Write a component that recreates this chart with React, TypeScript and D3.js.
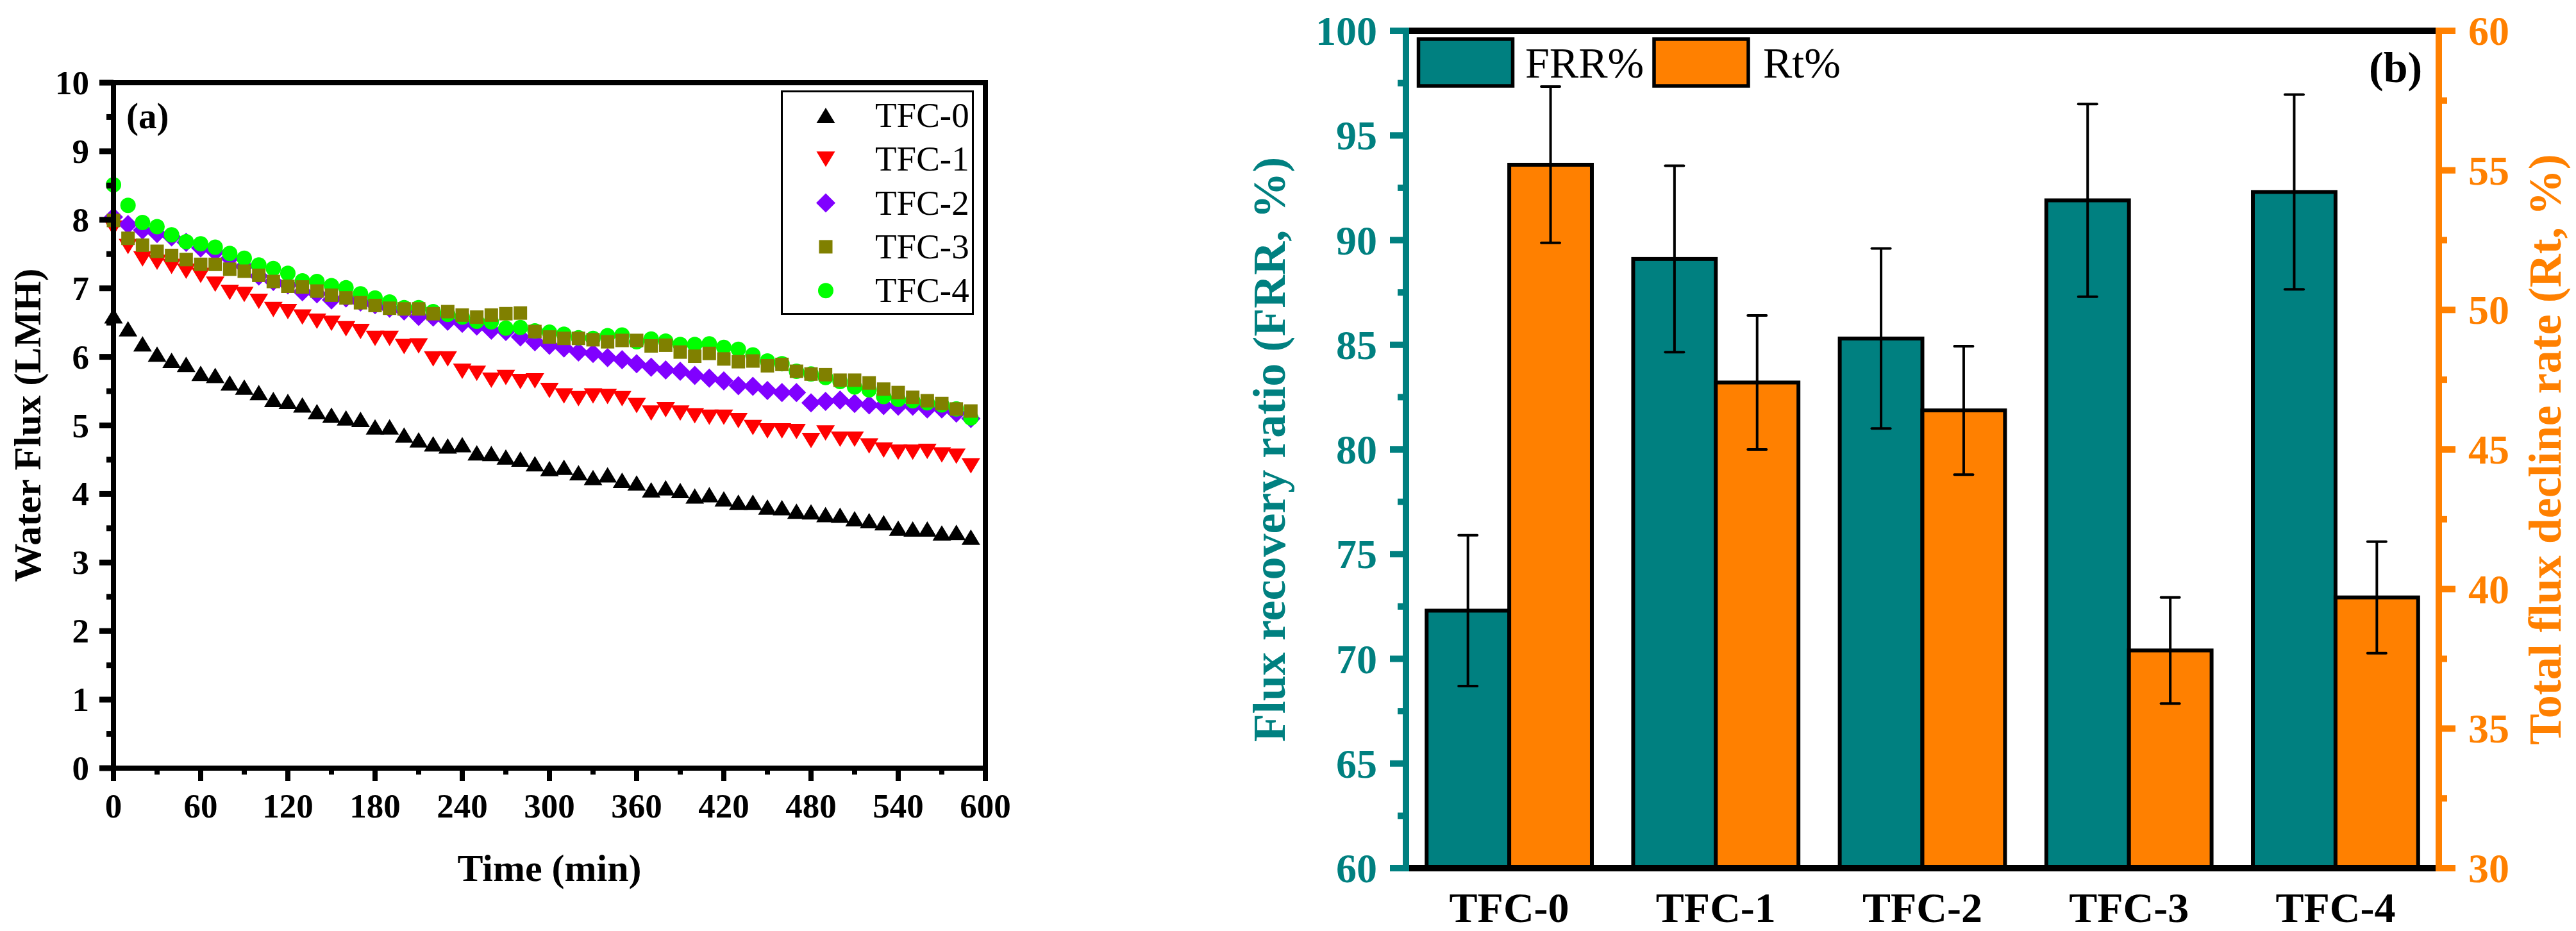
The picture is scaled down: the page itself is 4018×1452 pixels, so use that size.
import React from "react";
import * as d3 from "d3";

// ---- panel (a): water flux vs time ----
const times = [
  0, 10, 20, 30, 40, 50, 60, 70, 80, 90, 100, 110, 120, 130, 140, 150, 160, 170, 180, 190,
  200, 210, 220, 230, 240, 250, 260, 270, 280, 290, 300, 310, 320, 330, 340, 350, 360, 370, 380, 390,
  400, 410, 420, 430, 440, 450, 460, 470, 480, 490, 500, 510, 520, 530, 540, 550, 560, 570, 580, 590,
];
const tfc0 = [
  6.6, 6.41, 6.19, 6.04, 5.95, 5.89, 5.76, 5.73, 5.62, 5.56, 5.48, 5.38, 5.35, 5.3, 5.2, 5.15, 5.11, 5.09, 4.98, 4.98,
  4.86, 4.79, 4.73, 4.7, 4.72, 4.6, 4.59, 4.54, 4.51, 4.44, 4.37, 4.39, 4.31, 4.24, 4.28, 4.2, 4.16, 4.06, 4.09, 4.05,
  3.97, 3.99, 3.93, 3.88, 3.88, 3.81, 3.8, 3.75, 3.74, 3.7, 3.69, 3.64, 3.61, 3.58, 3.5, 3.49, 3.49, 3.43, 3.44, 3.37,
];
const tfc1 = [
  7.88, 7.61, 7.43, 7.38, 7.32, 7.25, 7.19, 7.06, 6.94, 6.91, 6.81, 6.69, 6.66, 6.58, 6.52, 6.49, 6.41, 6.37, 6.27, 6.27,
  6.15, 6.16, 5.97, 5.97, 5.79, 5.76, 5.66, 5.7, 5.64, 5.65, 5.51, 5.43, 5.39, 5.43, 5.42, 5.39, 5.29, 5.18, 5.23, 5.18,
  5.14, 5.12, 5.12, 5.07, 4.97, 4.92, 4.92, 4.91, 4.78, 4.89, 4.8, 4.8, 4.7, 4.64, 4.61, 4.61, 4.62, 4.57, 4.55, 4.41,
];
const tfc2 = [
  8.04, 7.93, 7.85, 7.8, 7.75, 7.67, 7.59, 7.53, 7.44, 7.32, 7.18, 7.1, 7.05, 6.95, 6.92, 6.83, 6.86, 6.8, 6.76, 6.71,
  6.67, 6.59, 6.58, 6.52, 6.49, 6.45, 6.39, 6.37, 6.29, 6.22, 6.17, 6.13, 6.07, 6.05, 5.99, 5.96, 5.9, 5.85, 5.81, 5.79,
  5.73, 5.69, 5.65, 5.58, 5.57, 5.51, 5.48, 5.48, 5.33, 5.35, 5.37, 5.32, 5.3, 5.29, 5.28, 5.28, 5.24, 5.24, 5.18, 5.1,
];
const tfc3 = [
  7.99, 7.73, 7.63, 7.54, 7.48, 7.42, 7.35, 7.35, 7.28, 7.25, 7.19, 7.1, 7.03, 7.02, 6.96, 6.9, 6.86, 6.79, 6.75, 6.71,
  6.7, 6.7, 6.63, 6.66, 6.61, 6.58, 6.61, 6.63, 6.64, 6.37, 6.29, 6.27, 6.27, 6.25, 6.22, 6.24, 6.24, 6.16, 6.17, 6.07,
  6.01, 6.05, 5.97, 5.93, 5.94, 5.87, 5.89, 5.79, 5.75, 5.74, 5.66, 5.66, 5.62, 5.53, 5.48, 5.41, 5.36, 5.32, 5.24, 5.21,
];
const tfc4 = [
  8.51, 8.21, 7.96, 7.9, 7.78, 7.68, 7.65, 7.6, 7.51, 7.44, 7.34, 7.29, 7.22, 7.11, 7.1, 7.04, 7.01, 6.92, 6.86, 6.8,
  6.72, 6.72, 6.66, 6.62, 6.58, 6.52, 6.51, 6.42, 6.43, 6.38, 6.36, 6.33, 6.28, 6.27, 6.31, 6.32, 6.22, 6.26, 6.23, 6.18,
  6.18, 6.19, 6.14, 6.11, 6.03, 5.94, 5.9, 5.79, 5.75, 5.7, 5.64, 5.56, 5.52, 5.42, 5.38, 5.36, 5.33, 5.3, 5.24, 5.11,
];
const seriesNames = ["TFC-0", "TFC-1", "TFC-2", "TFC-3", "TFC-4"];
const xTicks = [0, 60, 120, 180, 240, 300, 360, 420, 480, 540, 600];
const yTicks = [0, 1, 2, 3, 4, 5, 6, 7, 8, 9, 10];

// ---- panel (b): FRR / Rt bars ----
const categories = ["TFC-0", "TFC-1", "TFC-2", "TFC-3", "TFC-4"];
const frr = [72.3, 89.1, 85.3, 91.9, 92.3];
const frrErr = [3.6, 4.45, 4.3, 4.6, 4.65];
const rt = [55.2, 47.4, 46.4, 37.8, 39.7];
const rtErr = [2.8, 2.4, 2.3, 1.9, 2.0];
const frrTicks = [60, 65, 70, 75, 80, 85, 90, 95, 100];
const rtTicks = [30, 35, 40, 45, 50, 55, 60];

const W = 4018;
const H = 1452;
const FONT = "'Liberation Serif', 'Times New Roman', serif";
const TEAL = "#008080";
const ORANGE = "#FF8000";

const seriesStyle = [
  { shape: "up", color: "#000000" },
  { shape: "down", color: "#FF0000" },
  { shape: "diamond", color: "#8000FF" },
  { shape: "square", color: "#808000" },
  { shape: "circle", color: "#00FF00" },
];

function Marker({ shape, color, x, y }: { shape: string; color: string; x: number; y: number }) {
  if (shape === "circle") return <circle cx={x} cy={y} r={12} fill={color} />;
  if (shape === "square") return <rect x={x - 10.5} y={y - 10.5} width={21} height={21} fill={color} />;
  let d = "";
  if (shape === "up") d = "M0,-12L14.5,12L-14.5,12Z";
  else if (shape === "down") d = "M-14.5,-12L14.5,-12L0,12Z";
  else d = "M0,-15L15,0L0,15L-15,0Z";
  return <path d={d} transform={`translate(${x},${y})`} fill={color} />;
}

function FluxPanel() {
  const x = d3.scaleLinear().domain([0, 600]).range([177, 1537]);
  const y = d3.scaleLinear().domain([0, 10]).range([1198, 129]);
  const data = [tfc0, tfc1, tfc2, tfc3, tfc4];
  const drawOrder = [0, 1, 2, 4, 3];
  const xMinor = d3.range(30, 600, 60);
  const yMinor = d3.range(0.5, 10, 1);

  return (
    <g fontFamily={FONT}>
      {drawOrder.map((si) => (
        <g key={si}>
          {data[si].map((v, i) => (
            <Marker key={i} shape={seriesStyle[si].shape} color={seriesStyle[si].color} x={x(times[i])} y={y(v)} />
          ))}
        </g>
      ))}
      {/* frame */}
      <rect x={177} y={129} width={1360} height={1069} fill="none" stroke="#000" strokeWidth={8} />
      {xTicks.map((t) => (
        <g key={t}>
          <line x1={x(t)} x2={x(t)} y1={1198} y2={1218} stroke="#000" strokeWidth={8} />
          <text x={x(t)} y={1275} textAnchor="middle" fontSize={53} fontWeight="bold">{t}</text>
        </g>
      ))}
      {xMinor.map((t) => (
        <line key={t} x1={x(t)} x2={x(t)} y1={1198} y2={1208} stroke="#000" strokeWidth={8} />
      ))}
      {yTicks.map((v) => (
        <g key={v}>
          <line x1={155} x2={177} y1={y(v)} y2={y(v)} stroke="#000" strokeWidth={9} />
          <text x={139} y={y(v) + 18} textAnchor="end" fontSize={53} fontWeight="bold">{v}</text>
        </g>
      ))}
      {yMinor.map((v) => (
        <line key={v} x1={166} x2={177} y1={y(v)} y2={y(v)} stroke="#000" strokeWidth={9} />
      ))}
      <text x={857} y={1374} textAnchor="middle" fontSize={60} fontWeight="bold">Time (min)</text>
      <text transform="translate(63,663) rotate(-90)" textAnchor="middle" fontSize={60} fontWeight="bold">
        Water Flux (LMH)
      </text>
      <text x={197} y={200} fontSize={57} fontWeight="bold">(a)</text>
      {/* legend */}
      <rect x={1219.5} y={142.5} width={298} height={347} fill="#fff" stroke="#000" strokeWidth={3} />
      {seriesNames.map((name, i) => {
        const ry = 180 + i * 68.3;
        return (
          <g key={name}>
            <Marker shape={seriesStyle[i].shape} color={seriesStyle[i].color} x={1288} y={ry} />
            <text x={1365} y={ry + 18} fontSize={55}>{name}</text>
          </g>
        );
      })}
    </g>
  );
}

function RecoveryPanel() {
  const left = 2193;
  const right = 3804;
  const top = 48;
  const bottom = 1354;
  const x = d3.scaleBand().domain(categories).range([left, right]).paddingInner(0.2).paddingOuter(0.1);
  const yL = d3.scaleLinear().domain([60, 100]).range([bottom, top]);
  const yR = d3.scaleLinear().domain([30, 60]).range([bottom, top]);
  const bw = x.bandwidth() / 2;
  const frrMinor = d3.range(62.5, 100, 5);
  const rtMinor = d3.range(32.5, 60, 5);

  const errBar = (cx: number, y1: number, y2: number, key: string) => (
    <g key={key} stroke="#000" strokeWidth={4}>
      <line x1={cx} x2={cx} y1={y1} y2={y2} />
      <line x1={cx - 14.5} x2={cx + 14.5} y1={y1} y2={y1} strokeLinecap="round" />
      <line x1={cx - 14.5} x2={cx + 14.5} y1={y2} y2={y2} strokeLinecap="round" />
    </g>
  );

  return (
    <g fontFamily={FONT}>
      {categories.map((c, i) => {
        const x0 = x(c) as number;
        return (
          <g key={c}>
            <rect x={x0} y={yL(frr[i])} width={bw} height={bottom - yL(frr[i])} fill={TEAL} stroke="#000" strokeWidth={6} />
            <rect x={x0 + bw} y={yR(rt[i])} width={bw} height={bottom - yR(rt[i])} fill={ORANGE} stroke="#000" strokeWidth={6} />
          </g>
        );
      })}
      {categories.map((c, i) => {
        const x0 = x(c) as number;
        return (
          <g key={c}>
            {errBar(x0 + bw / 2, yL(frr[i] + frrErr[i]), yL(frr[i] - frrErr[i]), "f")}
            {errBar(x0 + bw * 1.5, yR(rt[i] + rtErr[i]), yR(rt[i] - rtErr[i]), "r")}
          </g>
        );
      })}
      {/* axes */}
      <line x1={left} x2={right} y1={top} y2={top} stroke="#000" strokeWidth={10} />
      <line x1={left} x2={right} y1={bottom} y2={bottom} stroke="#000" strokeWidth={10} />
      <line x1={left} x2={left} y1={top - 5} y2={bottom + 5} stroke={TEAL} strokeWidth={10} />
      <line x1={right} x2={right} y1={top - 5} y2={bottom + 5} stroke={ORANGE} strokeWidth={10} />
      {frrTicks.map((v) => (
        <g key={v}>
          <line x1={left - 25} x2={left} y1={yL(v)} y2={yL(v)} stroke={TEAL} strokeWidth={10} />
          <text x={2148} y={yL(v) + 22} textAnchor="end" fontSize={64} fontWeight="bold" fill={TEAL}>{v}</text>
        </g>
      ))}
      {frrMinor.map((v) => (
        <line key={v} x1={left - 13} x2={left} y1={yL(v)} y2={yL(v)} stroke={TEAL} strokeWidth={10} />
      ))}
      {rtTicks.map((v) => (
        <g key={v}>
          <line x1={right} x2={right + 26} y1={yR(v)} y2={yR(v)} stroke={ORANGE} strokeWidth={10} />
          <text x={3850} y={yR(v) + 22} fontSize={64} fontWeight="bold" fill={ORANGE}>{v}</text>
        </g>
      ))}
      {rtMinor.map((v) => (
        <line key={v} x1={right} x2={right + 13} y1={yR(v)} y2={yR(v)} stroke={ORANGE} strokeWidth={10} />
      ))}
      {categories.map((c) => (
        <text key={c} x={(x(c) as number) + x.bandwidth() / 2} y={1438} textAnchor="middle" fontSize={66} fontWeight="bold">
          {c}
        </text>
      ))}
      <text transform={`translate(2004,${(top + bottom) / 2}) rotate(-90)`} textAnchor="middle" fontSize={72} fontWeight="bold" fill={TEAL}>
        Flux recovery ratio (FRR, %)
      </text>
      <text transform={`translate(3994,${(top + bottom) / 2}) rotate(-90)`} textAnchor="middle" fontSize={72} fontWeight="bold" fill={ORANGE}>
        Total flux decline rate (Rt, %)
      </text>
      {/* legend */}
      <rect x={2212.5} y={61} width={147} height={73} fill={TEAL} stroke="#000" strokeWidth={5.5} />
      <text x={2379} y={121} fontSize={68}>FRR%</text>
      <rect x={2580} y={61} width={147} height={73} fill={ORANGE} stroke="#000" strokeWidth={5.5} />
      <text x={2750} y={121} fontSize={68}>Rt%</text>
      <text x={3695} y={128} fontSize={68} fontWeight="bold">(b)</text>
    </g>
  );
}

export default function App() {
  return (
    <svg
      width={W}
      height={H}
      viewBox={`0 0 ${W} ${H}`}
      style={{ position: "absolute", left: 0, top: 0, background: "#fff" }}
    >
      <rect width={W} height={H} fill="#fff" />
      <FluxPanel />
      <RecoveryPanel />
    </svg>
  );
}
